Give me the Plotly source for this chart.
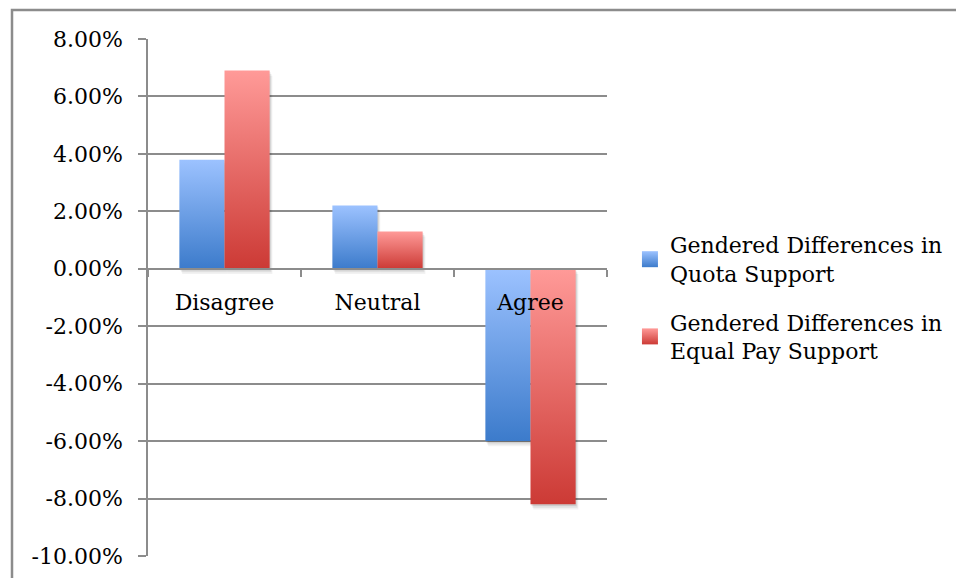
import plotly.graph_objects as go

# Survey responses and gendered support differences (percentage points)
categories = ["Disagree", "Neutral", "Agree"]
quota_diff = [3.8, 2.2, -6.0]
equal_pay_diff = [6.9, 1.3, -8.2]
series_names = [
    "Gendered Differences in<br>Quota Support",
    "Gendered Differences in<br>Equal Pay Support",
]
y_ticks = [8, 6, 4, 2, 0, -2, -4, -6, -8, -10]

# Light-to-dark vertical gradients for each series
quota_light, quota_dark = "#9cc2ff", "#3c7bcb"
pay_light, pay_dark = "#ff9a98", "#cc3a35"

FONT = "DejaVu Serif"
BAR_W = 0.295

fig = go.Figure()


def bar_polygon(x0, x1, v):
    return [x0, x1, x1, x0, x0], [0, 0, v, v, 0]


series = [
    (quota_diff, quota_light, quota_dark, -BAR_W),
    (equal_pay_diff, pay_light, pay_dark, 0.0),
]

# soft drop shadows under the bars
for values, light, dark, off in series:
    for i, v in enumerate(values):
        for k, a in ((3, 0.05), (2, 0.07), (1, 0.09)):
            xs, ys = bar_polygon(i + off + 0.006 * k, i + off + BAR_W + 0.006 * k, v)
            ys = [y - 0.06 * k for y in ys]
            fig.add_trace(go.Scatter(
                x=xs, y=ys, fill="toself", mode="none",
                fillcolor=f"rgba(0,0,0,{a})", showlegend=False, hoverinfo="skip",
            ))

# gradient-filled bars
for s, ((values, light, dark, off), name) in enumerate(zip(series, series_names)):
    for i, v in enumerate(values):
        xs, ys = bar_polygon(i + off, i + off + BAR_W, v)
        lo, hi = min(0, v), max(0, v)
        fig.add_trace(go.Scatter(
            x=xs, y=ys, fill="toself", mode="none",
            fillgradient=dict(type="vertical", start=lo, stop=hi,
                              colorscale=[[0, dark], [1, light]]),
            showlegend=False, name=name.replace("<br>", " "),
            hovertemplate=f"{categories[i]}: {v:.2f}%<extra></extra>",
        ))
    # legend entry
    fig.add_trace(go.Scatter(
        x=[None], y=[None], mode="markers", name=name, legendgroup=f"g{s}",
        marker=dict(symbol="square", size=16, color=light,
                    gradient=dict(type="vertical", color=dark)),
    ))

grid = "#8c8c8c"
x_pos = (0 - y_ticks[-1]) / (y_ticks[0] - y_ticks[-1])

fig.update_layout(
    width=956, height=578,
    margin=dict(l=148, r=349, t=39, b=22, autoexpand=False),
    paper_bgcolor="white", plot_bgcolor="white",
    font=dict(family=FONT, size=22, color="black"),
    showlegend=True,
    legend=dict(x=1.05, y=0.642, xanchor="left", yanchor="top",
                font=dict(family=FONT, size=22, color="black"),
                traceorder="grouped", tracegroupgap=17,
                itemwidth=30, bgcolor="rgba(0,0,0,0)"),
    xaxis=dict(
        range=[-0.5, 2.5], anchor="free", position=x_pos,
        tickvals=[-0.5, 0.5, 1.5, 2.5], showticklabels=False,
        ticks="outside", ticklen=7, tickcolor=grid, tickwidth=1.5,
        showline=True, linecolor=grid, linewidth=1.5,
        showgrid=False, zeroline=False, fixedrange=True,
    ),
    xaxis2=dict(
        range=[-0.5, 2.5], overlaying="x", anchor="free", position=x_pos,
        side="bottom", tickvals=[0, 1, 2], ticktext=categories,
        ticks="", ticklabelstandoff=18, showline=False, showgrid=False,
        zeroline=False, tickfont=dict(family=FONT, size=22, color="black"),
    ),
    yaxis=dict(
        range=[y_ticks[-1], y_ticks[0]], tickvals=y_ticks,
        ticktext=[f"{v:.2f}%" for v in y_ticks],
        ticks="outside", ticklen=8, tickcolor=grid, tickwidth=1.5,
        ticklabelstandoff=11,
        showgrid=True, gridcolor=grid, gridwidth=1.5,
        showline=True, linecolor=grid, linewidth=1.5,
        zeroline=False, fixedrange=True,
    ),
)

# invisible trace to bring the category label axis into the layout
fig.add_trace(go.Scatter(x=[0, 1, 2], y=[0, 0, 0], xaxis="x2", mode="markers",
                         marker=dict(opacity=0), showlegend=False, hoverinfo="skip"))

# outer frame (top and left edges visible)
px_x = lambda p: (p - 148) / 459
px_y = lambda p: (556 - p) / 517
fig.add_shape(type="path", xref="paper", yref="paper",
              path=f"M {px_x(12)},{px_y(600)} L {px_x(12)},{px_y(10)} L {px_x(990)},{px_y(10)}",
              line=dict(color="#8c8c8c", width=2.5))

fig.write_html("out.html")
